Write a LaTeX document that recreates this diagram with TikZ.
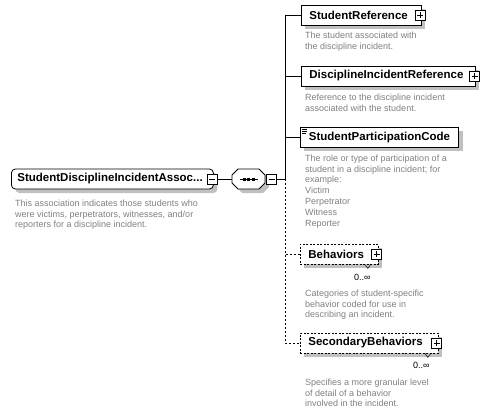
\documentclass[tikz,border=0pt]{standalone}
\usepackage{fontspec}
\setmainfont{Liberation Sans}
\usetikzlibrary{positioning,shadows}

\definecolor{descgray}{RGB}{128,128,128}
\definecolor{shadowgray}{RGB}{192,192,192}

\tikzset{
	boxshadow/.style={drop shadow={shadow xshift=4pt, shadow yshift=-4pt, fill=shadowgray, opacity=1}},
	elem/.style={draw, fill=white, line width=0.8pt, anchor=west, minimum height=20pt,
		inner xsep=8pt, inner ysep=2pt, align=left,
		font=\fontsize{11.5}{13}\selectfont\bfseries, boxshadow},
	optelem/.style={elem, dash pattern=on 2pt off 1.5pt},
	desc/.style={anchor=north west, inner sep=0pt, align=left, text=descgray,
		font=\fontsize{9}{10.8}\selectfont},
	mult/.style={inner sep=0pt, font=\fontsize{9}{10.8}\selectfont},
	togbox/.style={draw, fill=white, line width=0.7pt, minimum size=10pt, inner sep=0pt},
	minusbox/.style={togbox, path picture={
		\draw[line width=0.7pt] ([xshift=2pt]path picture bounding box.west) -- ([xshift=-2pt]path picture bounding box.east);}},
	plusbox/.style={togbox, path picture={
		\draw[line width=0.7pt] ([xshift=2pt]path picture bounding box.west) -- ([xshift=-2pt]path picture bounding box.east)
			([yshift=-2pt]path picture bounding box.north) -- ([yshift=2pt]path picture bounding box.south);}},
	conn/.style={line width=0.8pt},
	optconn/.style={conn, dash pattern=on 2pt off 2pt},
}

\def\seqoutline{(238,169) -- (259,169) -- (265,175) -- (265,183) -- (259,189)
	-- (238,189) -- (232,183) -- (232,175) -- cycle}

\begin{document}
\begin{tikzpicture}[x=1pt, y=-1pt]
	\useasboundingbox (0,0) rectangle (489,414);

	% root element
	\node[elem, rounded corners=4pt, inner xsep=6pt, text width=190pt] (assoc) at (11,179) {StudentDisciplineIncidentAssoc...};
	\node[minusbox] (assocMin) at ([xshift=-1.5pt]assoc.east) {};
	\node[desc] (assocDesc) at (15,199.5) {This association indicates those students who\\were victims, perpetrators, witnesses, and/or\\reporters for a discipline incident.};

	% sequence
	\fill[shadowgray, xshift=4pt, yshift=-4pt] \seqoutline;
	\filldraw[fill=white, line width=0.8pt] \seqoutline;
	\node[minimum width=33pt, minimum height=20pt, inner sep=0pt] (seq) at (248.5,179) {};
	\draw[line width=0.8pt] ([xshift=-9pt]seq.center) -- ([xshift=9pt]seq.center);
	\foreach \dx in {-4.5,0,4.5}
		\fill ([xshift=\dx pt]seq.center) +(-1.5,-1.5) rectangle +(1.5,1.5);
	\node[minusbox, anchor=west] (seqMin) at ([xshift=1pt]seq.east) {};
	\coordinate (bus) at (285,179);

	% children
	\node[elem, text width=104pt] (stuRef) at (301,15) {StudentReference};
	\node[plusbox] (stuRefPlus) at ([xshift=-1.5pt]stuRef.east) {};
	\node[desc] (stuRefDesc) at (305,32) {The student associated with\\the discipline incident.};

	\node[elem, text width=158pt] (discRef) at (301,76) {DisciplineIncidentReference};
	\node[plusbox] (discRefPlus) at ([xshift=-1pt]discRef.east) {};
	\node[desc] (discRefDesc) at (305,94) {Reference to the discipline incident\\associated with the student.};

	\node[elem, inner xsep=8.5pt] (partCode) at (300,137.5) {StudentParticipationCode};
	\foreach \dy/\len in {2.5/5,4.5/5,6.5/4}
		\draw[line width=0.5pt] ([xshift=2pt,yshift=-\dy pt]partCode.north west) -- ++(\len,0);
	\node[desc] (partCodeDesc) at (305,154.5) {The role or type of participation of a\\student in a discipline incident; for\\example:\\Victim\\Perpetrator\\Witness\\Reporter};

	\node[optelem, text width=62pt] (behav) at (300,254) {Behaviors};
	\node[plusbox] (behavPlus) at ([xshift=-2pt]behav.east) {};
	\draw[line width=0.5pt] ([xshift=-14pt]behav.south east) -- ++(3,4) -- ++(3,-4);
	\node[mult, below left=9.5pt and 8pt of behav.south east] (behavMult) {0..∞};
	\node[desc] (behavDesc) at (305,289.5) {Categories of student-specific\\behavior coded for use in\\describing an incident.};

	\node[optelem, text width=122pt] (secBehav) at (300,343) {SecondaryBehaviors};
	\node[plusbox] (secBehavPlus) at ([xshift=-2pt]secBehav.east) {};
	\draw[line width=0.5pt] ([xshift=-14pt]secBehav.south east) -- ++(3,4) -- ++(3,-4);
	\node[mult, below left=9pt and 9pt of secBehav.south east] (secBehavMult) {0..∞};
	\node[desc] (secBehavDesc) at (305,378.5) {Specifies a more granular level\\of detail of a behavior\\involved in the incident.};

	% connectors
	\draw[conn] (assocMin.east) -- (seq.west);
	\draw[conn] (seqMin.east) -- (bus);
	\draw[conn] (bus) |- (stuRef.west);
	\draw[conn] (bus) |- (discRef.west);
	\draw[conn] (bus) |- (partCode.west);
	\draw[optconn] (bus) |- (behav.west);
	\draw[optconn] (bus) |- (secBehav.west);
\end{tikzpicture}
\end{document}
